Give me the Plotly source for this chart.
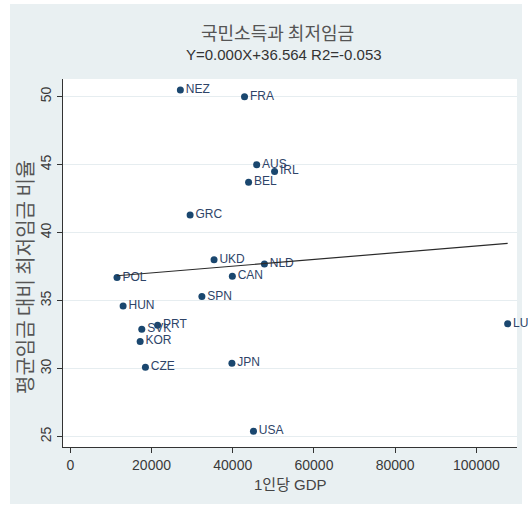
import numpy as np
import plotly.graph_objects as go

# ---- data ----
countries = ["NEZ", "FRA", "AUS", "IRL", "BEL", "GRC", "UKD", "NLD", "CAN", "POL",
             "SPN", "HUN", "PRT", "SVK", "KOR", "CZE", "JPN", "USA", "LUX"]
gdp_per_capita = [27100, 42900, 45900, 50300, 43900, 29500, 35400, 47800, 39900, 11500,
                  32400, 13000, 21500, 17600, 17200, 18500, 39800, 45100, 107700]
min_wage_ratio = [50.5, 50.0, 45.0, 44.5, 43.7, 41.3, 38.0, 37.7, 36.8, 36.7,
                  35.3, 34.6, 33.2, 32.9, 32.0, 30.1, 30.4, 25.4, 33.3]
x_ticks = [0, 20000, 40000, 60000, 80000, 100000]
y_ticks = [25, 30, 35, 40, 45, 50]

title_text = "국민소득과 최저임금"
subtitle_text = "Y=0.000X+36.564 R2=-0.053"
x_title = "1인당 GDP"
y_title = "평균임금 대비 최저임금 비율"

# ---- layout geometry ----
W, H = 528, 517
ML, MR, MT, MB = 63, 11, 79, 70
PW, PH = W - ML - MR, H - MT - MB

def px_x(p):
    return (p - ML) / PW

def px_y(p):
    return 1 - (p - MT) / PH

LATIN = "Liberation Sans, Arial, Noto Sans CJK KR, sans-serif"
KOR = "Noto Sans CJK KR, sans-serif"
NAVY = "#1a476f"

# linear fit from data
slope, intercept = np.polyfit(gdp_per_capita, min_wage_ratio, 1)
fit_x = [min(gdp_per_capita), max(gdp_per_capita)]
fit_y = [slope * v + intercept for v in fit_x]

fig = go.Figure()
fig.add_trace(go.Scatter(
    x=gdp_per_capita, y=min_wage_ratio, text=countries,
    mode="markers+text", textposition="middle right",
    marker=dict(color=NAVY, size=7),
    textfont=dict(family=LATIN, size=12, color="#2e4468"),
    cliponaxis=False, showlegend=False, hoverinfo="skip",
))
fig.add_trace(go.Scatter(
    x=fit_x, y=fit_y, mode="lines",
    line=dict(color="#2a2a2a", width=1.2), showlegend=False, hoverinfo="skip",
))

fig.update_layout(
    width=W, height=H,
    margin=dict(l=ML, r=MR, t=MT, b=MB),
    paper_bgcolor="white",
    plot_bgcolor="white",
    shapes=[
        dict(type="rect", xref="paper", yref="paper", layer="below",
             x0=px_x(10), x1=px_x(522), y0=px_y(504), y1=px_y(4),
             fillcolor="#e9f0f2", line=dict(width=0)),
        dict(type="rect", xref="paper", yref="paper", layer="below",
             x0=0, x1=1, y0=0, y1=1,
             fillcolor="white", line=dict(width=0)),
    ],
    xaxis=dict(
        range=[-1800, 110000], tickvals=x_ticks, tickformat="d",
        showgrid=False, zeroline=False,
        showline=True, linecolor="#333333", linewidth=1,
        ticks="outside", ticklen=5, tickcolor="#333333",
        tickfont=dict(family=LATIN, size=14, color="#3a3a3a"),
    ),
    yaxis=dict(
        range=[24.24, 51.3], tickvals=y_ticks, tickangle=-90,
        showgrid=True, gridcolor="#e6edf0", gridwidth=1, zeroline=False,
        showline=True, linecolor="#333333", linewidth=1,
        ticks="outside", ticklen=5, tickcolor="#333333",
        tickfont=dict(family=LATIN, size=14, color="#3a3a3a"),
    ),
    annotations=[
        dict(text=title_text, xref="paper", yref="paper", x=px_x(277), y=px_y(32),
             xanchor="center", yanchor="middle", showarrow=False,
             font=dict(family=KOR, size=18, color="#555555")),
        dict(text=subtitle_text, xref="paper", yref="paper", x=px_x(284), y=px_y(55),
             xanchor="center", yanchor="middle", showarrow=False,
             font=dict(family=LATIN, size=15, color="#333333")),
        dict(text=x_title, xref="paper", yref="paper", x=px_x(290), y=px_y(484),
             xanchor="center", yanchor="middle", showarrow=False,
             font=dict(family=LATIN, size=15, color="#444444")),
        dict(text=y_title, xref="paper", yref="paper", x=px_x(24), y=px_y(277),
             xanchor="center", yanchor="middle", showarrow=False, textangle=-90,
             font=dict(family=KOR, size=20, color="#555555")),
    ],
)

fig.write_html("out.html", config={"displayModeBar": False},
               post_script="document.body.style.margin='0';")
